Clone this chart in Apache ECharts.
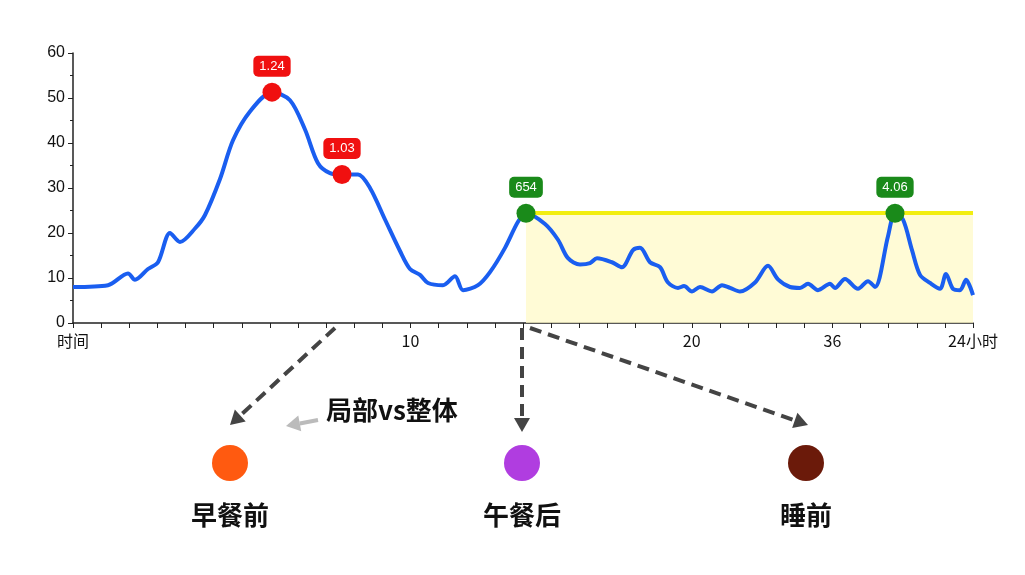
<!DOCTYPE html>
<html><head><meta charset="utf-8">
<script src="https://cdn.jsdelivr.net/npm/echarts@6/dist/echarts.min.js"></script>
<style>html,body{margin:0;padding:0;background:#fff}#c{width:1025px;height:575px}</style>
</head><body><div id="c"></div>
<script>
// time in axis units (0..900), glucose values
const timeVals = [0,35,55,62,75,85,97,107,122,132,147,160,177,199,217,232,245,257,269,285,297,312,327,337,347,355,370,382,390,405,417,432,445,453,472,485,495,507,517,524,539,549,560,567,577,587,595,605,611,619,627,639,649,657,667,682,695,705,717,727,735,745,757,762,772,785,795,802,815,822,830,839,847,857,867,873,880,887,893,900];
const glucose = [8,8.4,11,9.6,12,13.5,20,18,21,24,32,40.6,47,51.3,49.5,43,35.5,33.3,33,33,30,23,16,12,10.7,8.9,8.4,10.4,7.3,8.4,11.3,16.7,22.5,24.4,22,18.5,14.4,13,13.3,14.4,13.5,12.4,16.2,16.7,13.5,12.4,9,7.8,8.2,7,8,7,8.4,7.8,7,9,12.7,9.7,8,7.8,8.7,7.3,8.7,7.8,9.8,7.6,9.3,8,19.3,24.4,23,16.2,10.7,8.9,7.6,10.9,7.6,7.3,9.6,6.2];
const xTickLabels = {0:'时间',12:'10',22:'20',27:'36',32:'24小时'};
const redPoints = [[199,51.3,'1.24'],[269,33,'1.03']];
const greenPoints = [[453,24.4,'654'],[822,24.4,'4.06']];
const bandLevel = 24.5, bandStart = 453, bandEnd = 900;
const groups = [{name:'早餐前',color:'#ff5a10',x:230},{name:'午餐后',color:'#b03de0',x:522},{name:'睡前',color:'#6b1a0a',x:806}];
const step = 28.125;

const chart = echarts.init(document.getElementById('c'));
function mp(p,col){return {coord:[p[0],p[1]],value:p[2],symbol:'circle',symbolSize:19,
  itemStyle:{color:col},label:{show:true,position:'top',distance:6,formatter:p[2],color:'#fff',fontSize:13,
  backgroundColor:col,borderRadius:5,padding:[4,6]}};}
function arrow(x1,y1,x2,y2,col,w,dash){
  const a=Math.atan2(y2-y1,x2-x1),L=14,W=8;
  const bx=x2-L*Math.cos(a),by=y2-L*Math.sin(a);
  return [{type:'line',shape:{x1,y1,x2:bx,y2:by},style:{stroke:col,lineWidth:w,lineDash:dash}},
   {type:'polygon',shape:{points:[[x2,y2],[bx+W*Math.sin(a),by-W*Math.cos(a)],[bx-W*Math.sin(a),by+W*Math.cos(a)]]},style:{fill:col}}];
}
const g=[];
g.push(...arrow(335,328,230,425,'#444',4,[12,7]));
g.push(...arrow(522,328,522,432,'#444',4,[12,7]));
g.push(...arrow(530,328,808,425,'#444',4,[12,7]));
g.push(...arrow(318,420,286,426,'#bbb',4,null));
g.push({type:'text',left:326,top:397,style:{text:'局部vs整体',font:'bold 26px "Noto Sans CJK SC"',fill:'#111'}});
groups.forEach(o=>{
  g.push({type:'circle',shape:{cx:o.x,cy:463,r:18},style:{fill:o.color}});
  g.push({type:'text',x:o.x,y:515,style:{text:o.name,font:'bold 26px "Noto Sans CJK SC"',fill:'#111',align:'center',verticalAlign:'middle'}});
});
chart.setOption({
  animation:false,
  grid:{left:73,right:52,top:53,bottom:252},
  xAxis:{type:'value',min:0,max:900,interval:step,
    axisLine:{lineStyle:{color:'#222',width:1.5}},axisTick:{lineStyle:{color:'#222'},length:5},splitLine:{show:false},
    axisLabel:{color:'#111',fontSize:16,fontFamily:'Noto Sans CJK SC',margin:10,
      formatter:v=>{const k=Math.round(v/step);return xTickLabels[k]||'';}}},
  yAxis:{type:'value',min:0,max:60,interval:10,
    axisLine:{show:true,lineStyle:{color:'#222',width:1.5}},axisTick:{show:true,length:5,lineStyle:{color:'#222'}},
    minorTick:{show:true,splitNumber:2,length:3},splitLine:{show:false},
    axisLabel:{color:'#111',fontSize:16,fontFamily:'Liberation Sans'}},
  series:[{type:'line',data:timeVals.map((t,i)=>[t,glucose[i]]),smooth:0.3,showSymbol:false,
    lineStyle:{color:'#1a5ef0',width:4},
    markArea:{silent:true,itemStyle:{color:'rgba(255,250,200,0.75)'},data:[[{coord:[bandStart,0]},{coord:[bandEnd,bandLevel]}]]},
    markLine:{silent:true,symbol:'none',label:{show:false},lineStyle:{color:'#f2ee10',width:4,type:'solid'},
      data:[[{coord:[bandStart,bandLevel]},{coord:[bandEnd,bandLevel]}]]},
    markPoint:{data:[...redPoints.map(p=>mp(p,'#f01010')),...greenPoints.map(p=>mp(p,'#1a8a1a'))]}
  }],
  graphic:g
});
</script></body></html>
